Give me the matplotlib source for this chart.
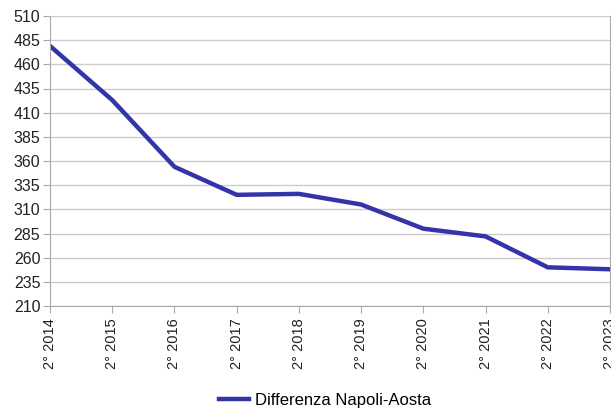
import matplotlib
matplotlib.use('Agg')
import matplotlib.pyplot as plt

plt.rcParams['font.family'] = ['Liberation Sans', 'DejaVu Sans']

# data
labels = ['2° 2014', '2° 2015', '2° 2016', '2° 2017', '2° 2018',
          '2° 2019', '2° 2020', '2° 2021', '2° 2022', '2° 2023']
values = [479, 423, 354, 325, 326, 315, 290, 282, 250, 248]
yticks = list(range(210, 511, 25))

fig = plt.figure(figsize=(6.11, 4.12), dpi=100)
ax = fig.add_axes([50 / 611, 1 - 306 / 412, 560 / 611, 290 / 412])

x = list(range(len(labels)))
ax.plot(x, values, color='#3333aa', linewidth=3.2, label='Differenza Napoli-Aosta',
        solid_joinstyle='miter')

ax.set_xlim(0, len(labels) - 1)
ax.set_ylim(210, 510)
ax.set_yticks(yticks)
ax.set_xticks(x)
ax.set_xticklabels(labels, rotation=90)
ax.grid(axis='y', color='#cccccc', linewidth=1)
ax.set_axisbelow(True)

for side in ['left', 'bottom', 'right']:
    ax.spines[side].set_color('#aaaaaa')
ax.spines['top'].set_visible(False)
ax.tick_params(axis='both', colors='#aaaaaa', labelcolor='#222222', length=5)
ax.tick_params(axis='x', labelsize=10.5)
ax.tick_params(axis='y', labelsize=11.5, pad=2)

fig.legend(loc='center', bbox_to_anchor=(0.532, 0.029), frameon=False,
           fontsize=12, handlelength=1.8, handletextpad=0.4)

fig.savefig('out.png', dpi=100)
